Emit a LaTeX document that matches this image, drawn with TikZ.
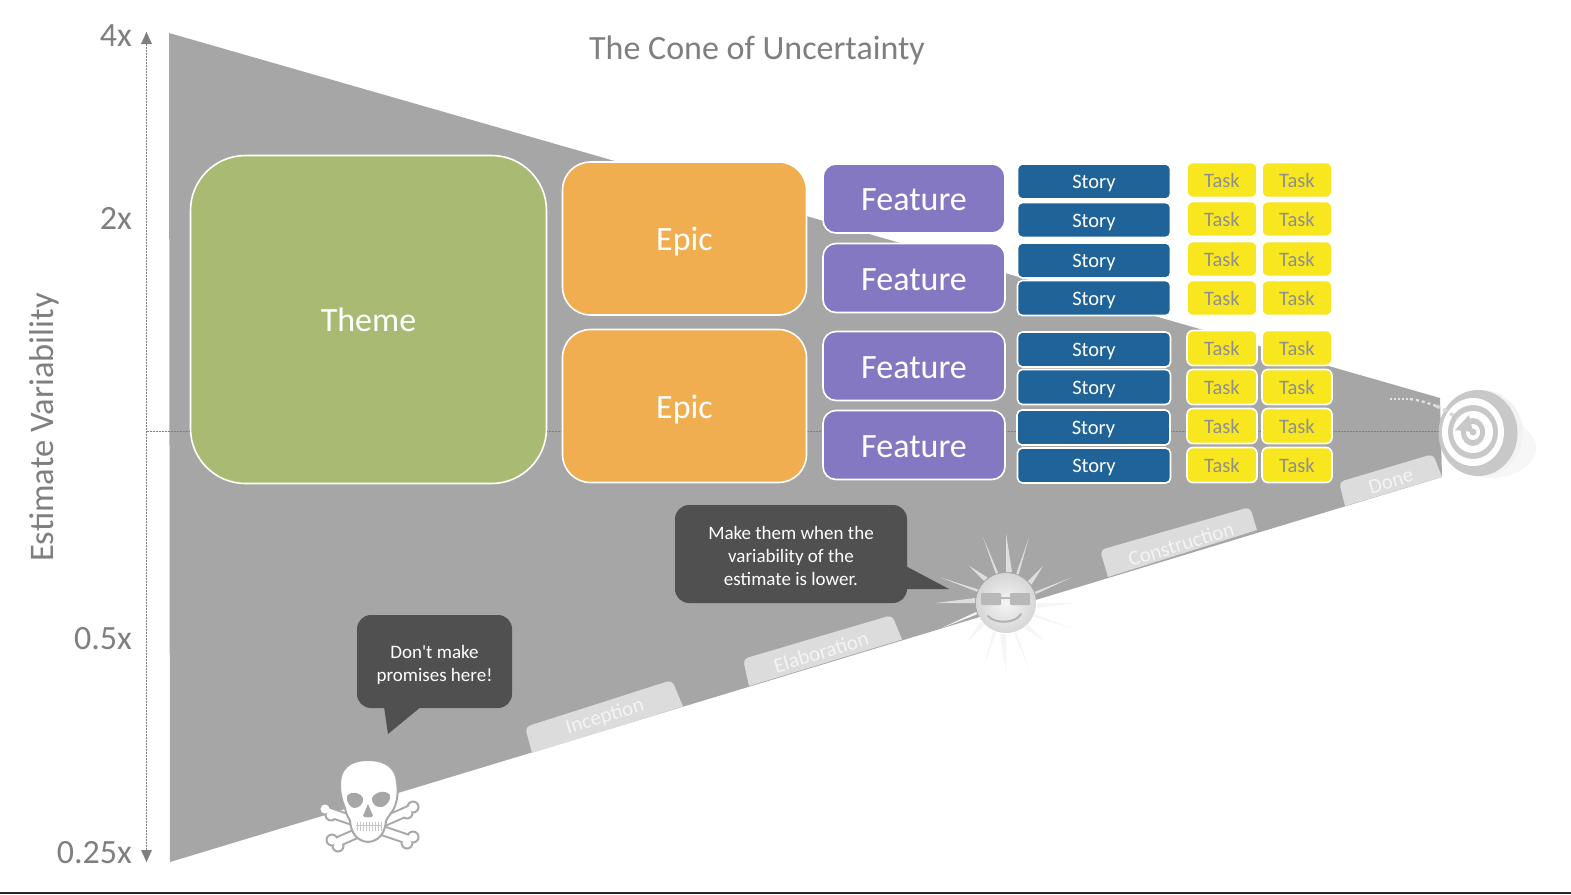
\documentclass[tikz,border=0pt]{standalone}
\usepackage{fontspec}
\setmainfont{Carlito}
\usetikzlibrary{arrows.meta}
\definecolor{conegrey}{HTML}{A6A6A6}
\definecolor{axisgrey}{HTML}{7F7F7F}
\definecolor{themegreen}{HTML}{A9BB73}
\definecolor{epicorange}{HTML}{F0AE50}
\definecolor{featurepurple}{HTML}{8478C2}
\definecolor{storyblue}{HTML}{1F6399}
\definecolor{taskyellow}{HTML}{F8E71E}
\definecolor{tasktext}{HTML}{8F8F8F}
\definecolor{bubblegrey}{HTML}{505050}
\definecolor{tabgrey}{HTML}{DCDCDC}
\definecolor{tabtext}{HTML}{F4F4F4}
\definecolor{ringgrey}{HTML}{C8C8C8}
\definecolor{bonegrey}{HTML}{A8A8A8}
\newcommand{\fsz}[1]{\fontsize{#1}{#1}\selectfont}
% one crossbone between two points: grey outline first, white core on top
\newcommand{\crossbone}[2]{%
  \foreach \wid/\col/\rad in {11/bonegrey/6.5,7/white/4.5}{
    \draw[line width=\wid pt,\col] (#1) -- (#2);
    \fill[\col] (#1) ++(-3,-3) circle[radius=\rad];
    \fill[\col] (#1) ++(3,3) circle[radius=\rad];
    \fill[\col] (#2) ++(3,-3) circle[radius=\rad];
    \fill[\col] (#2) ++(-3,3) circle[radius=\rad];
  }%
}
\tikzset{
  x=1pt,y=-1pt,
  boxbase/.style={draw=white,line width=1.6pt,inner sep=0pt,align=center,text=white},
  themebox/.style={boxbase,fill=themegreen,rounded corners=55pt,minimum width=356pt,minimum height=328pt,font=\fsz{34},text height=24pt,text depth=0pt},
  epicbox/.style={boxbase,fill=epicorange,rounded corners=28pt,minimum width=244pt,minimum height=153pt,font=\fsz{34},text height=24pt,text depth=0pt},
  featurebox/.style={boxbase,fill=featurepurple,rounded corners=13pt,minimum width=182pt,minimum height=69pt,font=\fsz{34},text height=24pt,text depth=0pt},
  storybox/.style={boxbase,fill=storyblue,rounded corners=5pt,minimum width=153pt,minimum height=35pt,font=\fsz{20.5},text height=14.5pt,text depth=0pt},
  taskbox/.style={boxbase,fill=taskyellow,rounded corners=6pt,minimum width=70pt,minimum height=35pt,font=\fsz{20.5},text=tasktext,text height=14.5pt,text depth=0pt},
  axislabel/.style={inner sep=0pt,text=axisgrey,font=\fsz{34}},
  axisline/.style={axisgrey,line width=.7pt,dash pattern=on 2pt off 1pt},
  bubble/.style={fill=bubblegrey,rounded corners=14pt,inner sep=0pt,align=center,text=white,font=\fsz{19}},
  tabface/.style={fill=tabgrey},
  tablabel/.style={inner sep=0pt,text=tabtext,font=\fsz{21},rotate=17},
}
\begin{document}
\begin{tikzpicture}
\useasboundingbox (0,0) rectangle (1571,894);
\fill[white] (0,0) rectangle (1571,894);
\fill[black!85] (0,892) rectangle (1571,894);

% the cone
\coordinate (coneTL) at (169,33);
\coordinate (coneBL) at (170,862);
\coordinate (coneTR) at (1440,398);
\coordinate (coneBR) at (1442,477);
\fill[conegrey] (coneTL) -- (coneTR) -- (coneBR) -- (coneBL) -- cycle;

% vertical scale and the centre line
\coordinate (axisTop) at (146.5,32);
\coordinate (axisBot) at (146.5,862);
\coordinate (axisMid) at (146.5,431.5);
\coordinate (axisEnd) at (1445,431.5);
\draw[axisline] (axisTop) -- (axisBot);
\fill[axisgrey] (axisTop) -- ++(5.5,12) -- ++(-11,0) -- cycle;
\fill[axisgrey] (axisBot) -- ++(5.5,-12) -- ++(-11,0) -- cycle;
\draw[axisline] (axisMid) -- (axisEnd);

\node[axislabel,anchor=east] (l4) at (132,36) {4x};
\node[axislabel,anchor=east] (l2) at (132,218) {2x};
\node[axislabel,anchor=east] (l05) at (132,639) {0.5x};
\node[axislabel,anchor=east] (l025) at (132,853) {0.25x};
\node[axislabel,rotate=90,font=\fsz{34.5}] (ylab) at (44,427.5) {Estimate Variability};
\node[axislabel] (title) at (757,50.5) {The Cone of Uncertainty};

% phase tabs along the lower edge of the cone: only the upper corners are rounded
\path[tabface] (532,753) [rounded corners=5pt] -- (525,727) -- (672,680) [sharp corners] -- (683,706.5) -- cycle;
\path[tabface] (749,686) [rounded corners=5pt] -- (743,659) -- (892,615) [sharp corners] -- (902,639.5) -- cycle;
\path[tabface] (1108,577) [rounded corners=5pt] -- (1100,550) -- (1250,507) [sharp corners] -- (1257,530) -- cycle;
\path[tabface] (1345,506) [rounded corners=5pt] -- (1339,482) -- (1433,454) [sharp corners] -- (1442,477) -- cycle;
\node[tablabel] (tInception) at (605,717) {Inception};
\node[tablabel] (tElaboration) at (821,652) {Elaboration};
\node[tablabel] (tConstruction) at (1181,544) {Construction};
\node[tablabel] (tDone) at (1391,481) {Done};

% hierarchy of work items
\node[themebox] (theme) at (368.5,319.5) {Theme};
\node[epicbox] (epicA) at (684.5,238.5) {Epic};
\node[epicbox] (epicB) at (684.5,406) {Epic};
\node[featurebox] (featA) at (914,198.5) {Feature};
\node[featurebox] (featB) at (914,278) {Feature};
\node[featurebox] (featC) at (914,366) {Feature};
\node[featurebox] (featD) at (914,445) {Feature};
\foreach \n/\px/\py in {1/1094/181.5,2/1094/220,3/1094/260.5,4/1094/298,5/1094/349.5,6/1094/387,7/1093.5/427.5,8/1094/465.5}
  \node[storybox] (story\n) at (\px,\py) {Story};
\foreach \n/\py/\qy in {1/180/180,2/219/219,3/259/259,4/298/298,5/348/348,6/387/387,7/426/426,8/465/465}{
  \node[taskbox] (taskA\n) at (1222,\py) {Task};
  \node[taskbox] (taskB\n) at (1297,\qy) {Task};
}

% speech bubbles
\fill[bubblegrey] (383,700) -- (388,734) -- (422,706) -- cycle;
\node[bubble,minimum width=155pt,minimum height=93pt] (warn) at (434.5,661.5) {\rule{0pt}{20pt}Don\textquotesingle t make\\[4pt]promises here!};
\fill[bubblegrey] (900,563) -- (949,589) -- (900,589) -- cycle;
\node[bubble,minimum width=232pt,minimum height=98pt] (advice) at (791,554) {\rule{0pt}{17pt}Make them when the\\[4pt]variability of the\\[4pt]estimate is lower.};

% crossbones and skull
\crossbone{328,812}{410,840}
\crossbone{335,843}{410,810}
\draw[bonegrey,line width=2pt,fill=white]
  (368,760) .. controls (348,760) and (340,770) .. (340,784)
  .. controls (340,796) and (343,803) .. (345,808)
  .. controls (346,815) and (349,818) .. (350,821)
  .. controls (351,832) and (356,841) .. (368,842)
  .. controls (380,841) and (385,832) .. (386,821)
  .. controls (388,816) and (393,812) .. (395,806)
  .. controls (398,798) and (398,790) .. (397,782)
  .. controls (396,768) and (386,760) .. (368,760) -- cycle;
\fill[conegrey] (347,796) .. controls (352,790) and (361,793) .. (363,798)
  .. controls (364,804) and (359,808) .. (354,808) .. controls (350,807) and (346,802) .. (347,796) -- cycle;
\fill[conegrey] (390,795) .. controls (385,789) and (375,792) .. (372,798)
  .. controls (371,804) and (377,808) .. (382,807) .. controls (386,806) and (391,801) .. (390,795) -- cycle;
\fill[conegrey] (368,804) -- (373,816) .. controls (371,818) and (365,818) .. (363,816) -- cycle;
\draw[black!22,line width=1pt] (356,825) -- (381,825);
\foreach \tx in {357,360,...,381}
  \draw[black!22,line width=.7pt] (\tx,822) -- (\tx,831);

% sun with sunglasses: rays above the cone edge read brighter than those below it
\coordinate (sunC) at (1006,603);
\foreach \ang/\len/\hw in {180/70/5,270/70/6,
    225/53/5,315/53/5,
    201.3/70/2.5,250.7/70/2.5,289.3/70/2.5,338.7/70/2.5}{
  \fill[white!93!black,opacity=.8] ([shift={(\ang:31)}]sunC) ++(\ang+90:\hw) -- ([shift={(\ang:\len)}]sunC)
     -- ([shift={(\ang:31)}]sunC) ++(\ang-90:\hw) -- cycle;
}
\foreach \ang/\len/\hw in {0/70/5,90/70/6,
    45/53/5,135/53/5,
    21.3/70/2.5,70.7/70/2.5,109.3/70/2.5,158.7/70/2.5}{
  \fill[white!96!black] ([shift={(\ang:31)}]sunC) ++(\ang+90:\hw) -- ([shift={(\ang:\len)}]sunC)
     -- ([shift={(\ang:31)}]sunC) ++(\ang-90:\hw) -- cycle;
}
\shade[inner color=white!96!black,outer color=white!84!black] (sunC) circle[radius=30];
\fill[black!28,rounded corners=1pt] (981,593) rectangle (1001,605);
\fill[black!28,rounded corners=1pt] (1010,593) rectangle (1030,605);
\draw[black!28,line width=2pt] (1001,598) -- (1010,598);
\draw[black!30,line width=2pt,line cap=round] (988,616) .. controls (995,624) and (1015,624) .. (1021,614);

% target and incoming dart
\coordinate (targetC) at (1473,432);
\fill[black!3] (1491,448) ellipse[x radius=45,y radius=30];
\fill[black!5] (1482,433) ellipse[x radius=41,y radius=43];
\fill[ringgrey] (1478,433) ellipse[x radius=39.5,y radius=43];
\fill[white] (targetC) ellipse[x radius=31,y radius=34];
\fill[ringgrey] (targetC) ellipse[x radius=25,y radius=27];
\fill[white] (targetC) ellipse[x radius=20,y radius=21];
\fill[ringgrey] (targetC) ellipse[x radius=12,y radius=14];
\fill[white] (targetC) ellipse[x radius=7,y radius=8];
\fill[ringgrey] (targetC) circle[radius=3.5];
\fill[ringgrey] (targetC) -- (1455,430) -- (1469,415) -- cycle;
\draw[white!90!black,line width=1.2pt,dash pattern=on 2pt off 2pt] (1390,399) -- (1410,399);
\draw[white!88!black,line width=2.4pt,dash pattern=on 3pt off 3pt] (1410,399) .. controls (1418,400) and (1425,402) .. (1436,406);
\draw[white!85!black,line width=3.4pt,dash pattern=on 4pt off 4pt] (1436,406) .. controls (1444,409) and (1450,413) .. (1458,419);
\end{tikzpicture}
\end{document}
